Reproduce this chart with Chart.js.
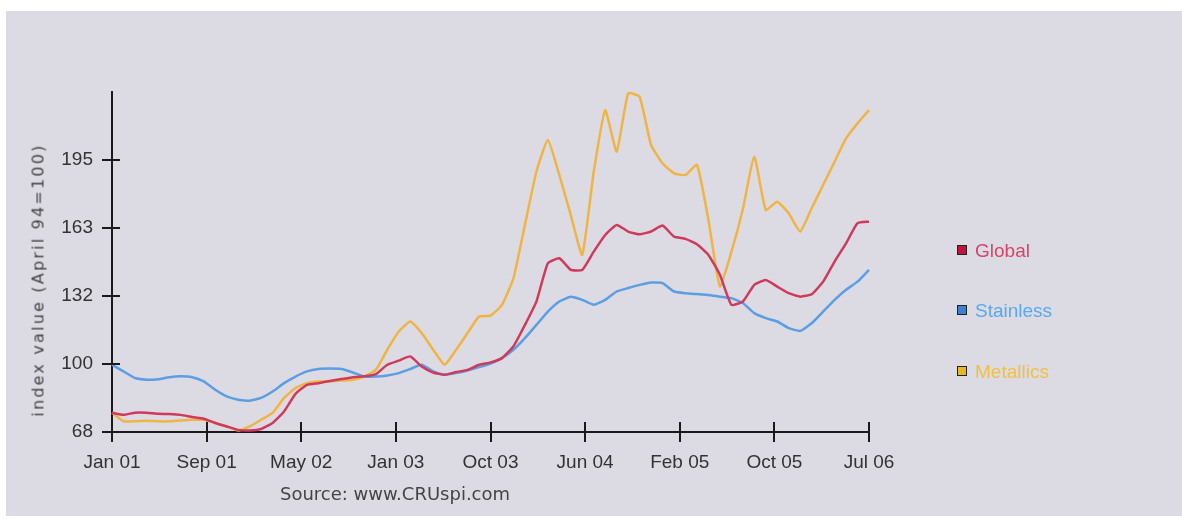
<!DOCTYPE html>
<html>
<head>
<meta charset="utf-8">
<script src="https://cdn.jsdelivr.net/npm/chart.js@4"></script>
<style>
  body { margin: 0; background: #fff; width: 1182px; height: 525px; position: relative; overflow: hidden; }
  #panel { position: absolute; left: 6px; top: 11px; width: 1176px; height: 505px; background: #dcdbe3; }
  #chart { position: absolute; left: 0; top: 0; }
  .ytitle { position: absolute; left: 38px; top: 280px; transform: translate(-50%, -50%) rotate(-90deg);
            font: 16px "DejaVu Sans"; letter-spacing: 2.2px; color: #444; white-space: nowrap; }
  .source { position: absolute; left: 280px; top: 483px; font: 18px "DejaVu Sans"; color: #444; white-space: nowrap; }
  .leg { position: absolute; left: 957px; font: 19px "Liberation Sans"; white-space: nowrap; }
  .leg span.box { display: inline-block; width: 8px; height: 8px; border: 1px solid #222; margin-right: 8px; vertical-align: 2px; }
</style>
</head>
<body>
<div id="panel"></div>
<canvas id="chart" width="1182" height="525"></canvas>
<div class="ytitle">index value (April 94=100)</div>
<div class="source">Source: www.CRUspi.com</div>
<div id="legend"></div>
<script>
// monthly index, Jan 01 .. Jul 06
const seriesNames = ['Global', 'Stainless', 'Metallics'];
const lineColors = ['#cf3a5c', '#5c9ee2', '#efb443'];
const boxColors = ['#c0143c', '#3d7fd0', '#e8b820'];
const textColors = ['#d4456a', '#5aa8f0', '#f2c040'];

const global = [77, 76, 77, 77, 76.5, 76.4, 76, 75, 74.2, 72.2,
  70.6, 69, 68.7, 69.4, 72.2, 77.6, 85.8, 90, 90.8, 91.8,
  92.7, 93.6, 94, 95, 99.4, 101.3, 103.3, 98.6, 95.8, 94.7,
  96, 97, 99.4, 100.5, 102.5, 108, 118, 128.9, 146.8, 149.1,
  143.7, 143.7, 152.2, 160, 164.7, 161.6, 160.3, 161.6, 164.4, 159.2,
  158.2, 155.7, 150.7, 141.4, 127.4, 128.9, 136.7, 139, 135.9, 132.8,
  131.2, 132.3, 138.2, 147.6, 156.1, 165.5, 166.2];

const stainless = [99.4, 96.3, 93.2, 92.4, 92.6, 93.6, 94, 93.6, 91.6, 87.7,
  84.6, 83.1, 82.6, 83.9, 86.9, 90.8, 93.9, 96.3, 97.4, 97.6,
  97.4, 95.8, 93.9, 93.9, 94.4, 95.5, 97.4, 99.4, 96.3, 94.7,
  95.5, 96.7, 98.3, 100, 102.5, 106.4, 111.8, 118, 124.2, 128.9,
  131.2, 129.7, 127.4, 129.7, 133.6, 135.2, 136.7, 137.8, 137.5, 133.6,
  132.8, 132.4, 132, 131.2, 130.5, 128.2, 123.5, 121.2, 119.6, 116.5,
  115.2, 118.8, 124.2, 129.7, 134.4, 138.2, 143.7];

const metallics = [77, 73, 73, 73.3, 73, 73, 73.4, 73.7, 73.7, 72.2,
  70.6, 68.7, 70.6, 73.7, 76.9, 83.9, 88.5, 90.8, 91.6, 91.6,
  92, 92.4, 93.9, 97, 106.4, 114.9, 119.6, 114.2, 106.4, 99.4,
  106.4, 114.2, 121.9, 122.3, 127.4, 139.8, 164.7, 189.5, 204.3, 188,
  169.3, 150.7, 189.5, 218.3, 198.9, 226.1, 224.5, 202, 193.5, 188.8,
  188, 192.7, 167, 136, 152, 172, 196.5, 171.7, 175.5, 170.1,
  161.6, 172.5, 183.3, 194.2, 205.1, 212.1, 218.3];

// axis ticks (x in months since Jan 01)
const xTickPos = [0, 8.25, 16.5, 24.75, 33, 41.25, 49.5, 57.75, 66];
const xTickLabels = ['Jan 01', 'Sep 01', 'May 02', 'Jan 03', 'Oct 03', 'Jun 04', 'Feb 05', 'Oct 05', 'Jul 06'];
const yTickPos = [68, 99.75, 131.5, 163.25, 195];
const yTickLabels = ['68', '100', '132', '163', '195'];

const allSeries = [global, stainless, metallics];

// ticks that cross the axis line: draw the inner half
const innerTicks = {
  id: 'innerTicks',
  afterDatasetsDraw(chart) {
    const c = chart.ctx, a = chart.chartArea;
    const xs = chart.scales.x, ys = chart.scales.y;
    c.save();
    c.strokeStyle = '#1a1a1a';
    c.lineWidth = 2;
    c.beginPath();
    xTickPos.forEach(v => {
      const px = Math.round(xs.getPixelForValue(v));
      c.moveTo(px, a.bottom); c.lineTo(px, a.bottom - 10);
    });
    yTickPos.forEach(v => {
      const py = Math.round(ys.getPixelForValue(v));
      c.moveTo(a.left, py); c.lineTo(a.left + 8, py);
    });
    c.stroke();
    c.restore();
  }
};

const CHART = document.getElementById('chart');
new Chart(CHART, {
  type: 'line',
  data: {
    datasets: allSeries.map((s, k) => ({
      label: seriesNames[k],
      data: s.map((v, i) => ({ x: i, y: v })),
      borderColor: lineColors[k],
      borderWidth: 2.5,
      pointRadius: 0,
      tension: 0.15,
      clip: false
    }))
  },
  options: {
    responsive: false,
    animation: false,
    layout: { padding: { top: 92, right: 313, left: 0, bottom: 0 } },
    plugins: { legend: { display: false }, tooltip: { enabled: false } },
    scales: {
      x: {
        type: 'linear', min: 0, max: 66,
        border: { color: '#1a1a1a', width: 2 },
        grid: { drawOnChartArea: false, tickLength: 10, color: '#1a1a1a', lineWidth: 2 },
        afterBuildTicks: s => { s.ticks = xTickPos.map(v => ({ value: v })); },
        afterFit: s => { s.height = 93; },
        ticks: {
          autoSkip: false, maxRotation: 0, padding: 9, color: '#333',
          font: { family: 'Liberation Sans', size: 19 },
          callback: (v, i) => xTickLabels[i]
        }
      },
      y: {
        min: 68, max: 226.75,
        border: { color: '#1a1a1a', width: 2 },
        grid: { drawOnChartArea: false, tickLength: 10, color: '#1a1a1a', lineWidth: 2 },
        afterBuildTicks: s => { s.ticks = yTickPos.map(v => ({ value: v })); },
        afterFit: s => { s.width = 112; },
        ticks: {
          padding: 9, color: '#333',
          font: { family: 'Liberation Sans', size: 19 },
          callback: (v, i) => yTickLabels[i]
        }
      }
    }
  },
  plugins: [innerTicks]
});

// legend
const legTops = [240, 300, 361];
const legend = document.getElementById('legend');
seriesNames.forEach((n, k) => {
  const d = document.createElement('div');
  d.className = 'leg';
  d.style.top = legTops[k] + 'px';
  d.style.color = textColors[k];
  d.innerHTML = '<span class="box" style="background:' + boxColors[k] + '"></span>' + n;
  legend.appendChild(d);
});
</script>
</body>
</html>
